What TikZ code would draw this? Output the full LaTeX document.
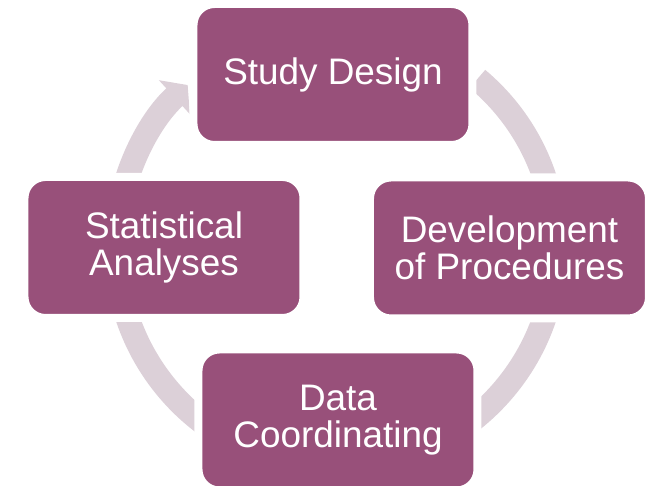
\documentclass[tikz,border=0pt]{standalone}
\usepackage{fontspec}
\setmainfont{Liberation Sans}
\usetikzlibrary{arrows.meta}
\definecolor{boxpurple}{HTML}{98507A}
\definecolor{ringgrey}{HTML}{DCD0D8}
\tikzset{
  stagebox/.style={rectangle, rounded corners=0.21cm, fill=boxpurple, draw=white,
    line width=0.08cm, minimum width=2.79cm, minimum height=1.41cm, inner sep=0pt,
    text=white, align=center, font=\fontsize{10.5}{10.5}\selectfont},
  ringarrow/.style={draw=ringgrey, line width=0.24cm,
    -{Triangle[length=0.18cm, width=0.45cm]}}
}
\begin{document}
\begin{tikzpicture}
\useasboundingbox (0,0) rectangle (6.54,4.86);
\coordinate (hub) at (3.36, 2.385);
\draw[ringarrow] (hub) ++(50:2.2) arc[start angle=50, end angle=-227.6, radius=2.2]; % cycle ring
\node[stagebox] (study) at (3.33, 4.115) {Study Design};
\node[stagebox] (devel) at (5.095, 2.38) {Development\\of Procedures};
\node[stagebox] (datac) at (3.38, 0.66) {Data\\Coordinating};
\node[stagebox] (stats) at (1.64, 2.385) {Statistical\\Analyses};
\end{tikzpicture}
\end{document}
